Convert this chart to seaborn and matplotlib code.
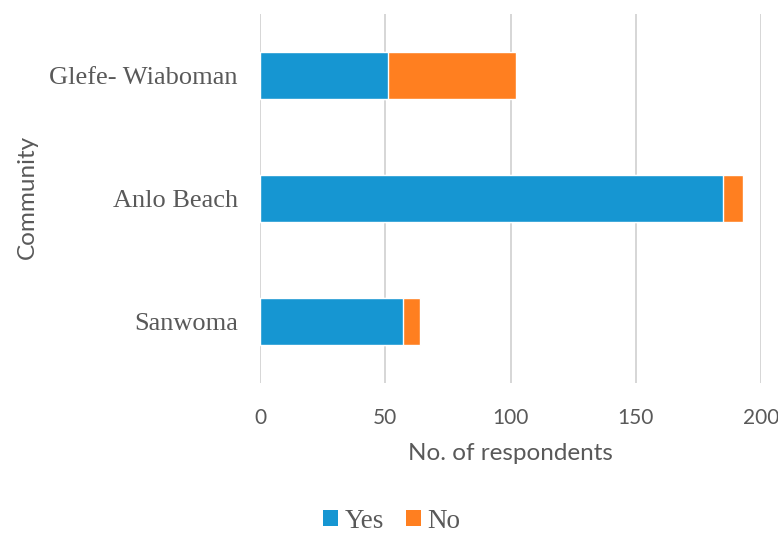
import matplotlib
matplotlib.use("Agg")
import matplotlib.pyplot as plt
from matplotlib.patches import Patch
import seaborn as sns
import pandas as pd

# Survey responses per community
communities = ["Glefe- Wiaboman", "Anlo Beach", "Sanwoma"]
yes_counts = [51, 185, 57]
no_counts = [51, 8, 7]
series_names = ["Yes", "No"]
x_ticks = [0, 50, 100, 150, 200]

BLUE = "#1696D2"
ORANGE = "#FF7F20"
GRAY_TEXT = "#595959"
GRID = "#D6D6D6"

df = pd.DataFrame({
    "Community": communities,
    "Yes": yes_counts,
    "No": no_counts,
})
df["Total"] = df["Yes"] + df["No"]

sns.set_theme(style="white")
plt.rcParams["font.family"] = ["Liberation Serif", "DejaVu Serif"]

fig = plt.figure(figsize=(7.78, 5.33), dpi=100)
W, H = 778, 533
left, right, top, bottom = 260, 761, 14, 383
ax = fig.add_axes([left / W, 1 - bottom / H, (right - left) / W, (bottom - top) / H])

# Stacked bars: the total (ending with "No") underneath, "Yes" drawn on top
sns.barplot(data=df, y="Community", x="Total", order=communities,
            color=ORANGE, width=0.38, orient="h", ax=ax, saturation=1)
sns.barplot(data=df, y="Community", x="Yes", order=communities,
            color=BLUE, width=0.38, orient="h", ax=ax, saturation=1)

ax.set_xlim(0, 200)
ax.set_xticks(x_ticks)
ax.set_xticklabels([str(t) for t in x_ticks], fontfamily="Lato",
                   fontsize=15, color=GRAY_TEXT)
ax.set_yticks(range(len(communities)))
ax.set_yticklabels(communities, fontsize=19, color=GRAY_TEXT)
ax.tick_params(axis="both", length=0)
ax.tick_params(axis="x", pad=18)
ax.tick_params(axis="y", pad=16)

ax.xaxis.grid(True, color=GRID, linewidth=1.4)
ax.set_axisbelow(True)
for s in ax.spines.values():
    s.set_visible(False)

ax.set_xlabel("No. of respondents", fontfamily="Lato", fontsize=17.5,
              color=GRAY_TEXT, labelpad=11)
ax.set_ylabel("")
fig.text(27 / W, 1 - 197 / H, "Community", rotation=90, ha="center", va="center",
         fontfamily="Lato", fontsize=17.5, color=GRAY_TEXT)

handles = [Patch(facecolor=BLUE, edgecolor="none"),
           Patch(facecolor=ORANGE, edgecolor="none")]
fig.legend(handles, series_names, loc="center", bbox_to_anchor=(392 / W, 1 - 521 / H),
           ncol=2, frameon=False, fontsize=19.5, labelcolor=GRAY_TEXT,
           handlelength=0.55, handleheight=0.55, handletextpad=0.25, columnspacing=0.8)

fig.savefig("out.png", dpi=100, facecolor="white")
